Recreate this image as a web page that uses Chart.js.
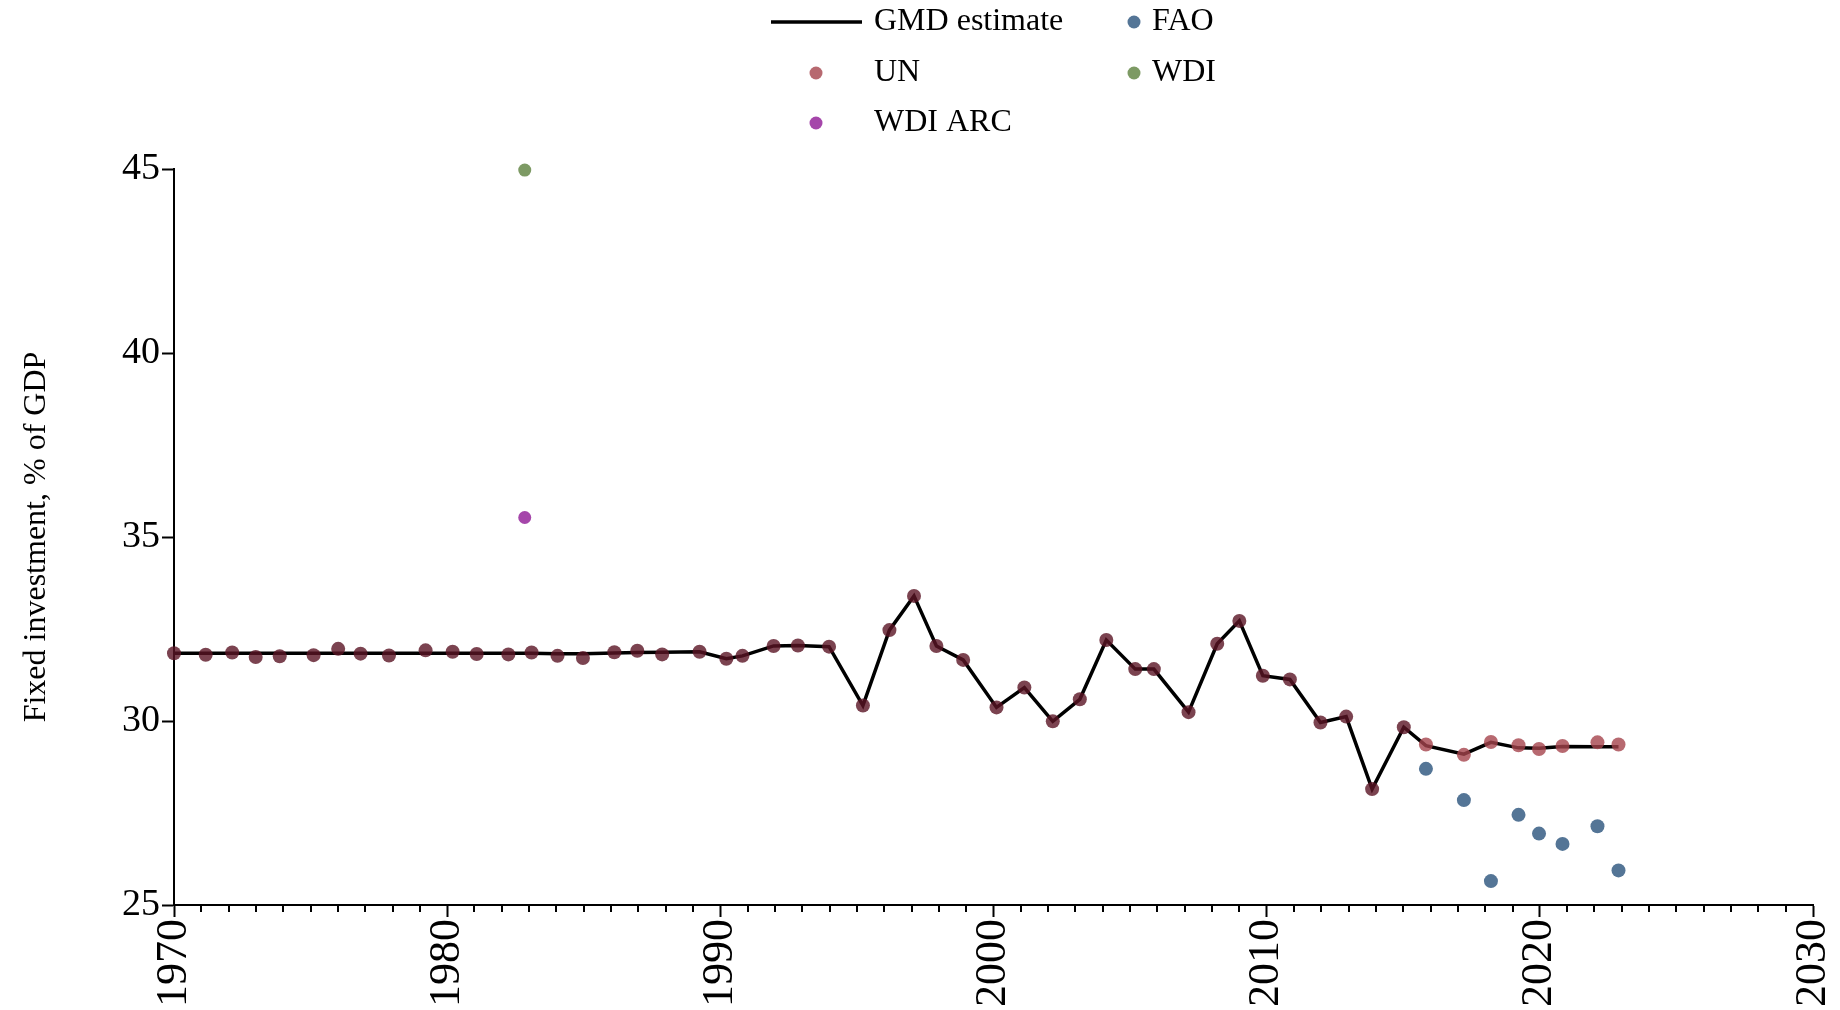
<!DOCTYPE html>
<html>
<head>
<meta charset="utf-8">
<script src="https://cdn.jsdelivr.net/npm/chart.js@4.4.1/dist/chart.umd.min.js"></script>
<style>
  html, body { margin: 0; padding: 0; background: #fff; }
</style>
</head>
<body>
<canvas id="chart" width="1840" height="1010"></canvas>
<script>
// x positions as they sit in the source chart (slightly off whole years)
const years = [
  1970.0, 1971.16, 1972.13, 1972.99, 1973.87, 1975.11, 1976.01, 1976.83, 1977.87, 1979.21,
  1980.20, 1981.08, 1982.24, 1983.09, 1984.04, 1984.97, 1986.12, 1986.96, 1987.87, 1989.24,
  1990.22, 1990.81, 1991.95, 1992.84, 1993.98, 1995.22, 1996.19, 1997.09, 1997.91, 1998.89,
  2000.11, 2001.13, 2002.17, 2003.16, 2004.13, 2005.19, 2005.87, 2007.14, 2008.19, 2009.0,
  2009.86, 2010.85, 2011.97, 2012.91, 2013.86, 2015.02, 2015.83, 2017.22, 2018.21, 2019.22,
  2019.97, 2020.83, 2022.11, 2022.88
];
const gmdEstimate = [
  31.84, 31.84, 31.84, 31.84, 31.84, 31.84, 31.84, 31.84, 31.84, 31.84,
  31.84, 31.84, 31.84, 31.84, 31.83, 31.83, 31.85, 31.86, 31.87, 31.88,
  31.69, 31.77, 32.04, 32.05, 32.02, 30.42, 32.47, 33.40, 32.04, 31.66,
  30.37, 30.91, 29.99, 30.59, 32.20, 31.41, 31.41, 30.24, 32.10, 32.72,
  31.23, 31.13, 29.96, 30.12, 28.15, 29.83, 29.33, 29.10, 29.42, 29.27,
  29.26, 29.31, 29.30, 29.30
];
const unValues = [
  31.84, 31.80, 31.86, 31.74, 31.76, 31.79, 31.96, 31.83, 31.78, 31.92,
  31.88, 31.82, 31.81, 31.86, 31.77, 31.71, 31.87, 31.91, 31.81, 31.88,
  31.69, 31.77, 32.04, 32.05, 32.02, 30.42, 32.47, 33.40, 32.04, 31.66,
  30.37, 30.91, 29.99, 30.59, 32.20, 31.41, 31.41, 30.24, 32.10, 32.72,
  31.23, 31.13, 29.96, 30.12, 28.15, 29.83, 29.36, 29.08, 29.43, 29.34,
  29.24, 29.32, 29.42, 29.36
];
const faoYears = [2015.83, 2017.22, 2018.21, 2019.22, 2019.97, 2020.83, 2022.11, 2022.88];
const faoValues = [28.70, 27.85, 25.65, 27.45, 26.94, 26.66, 27.14, 25.94];
const wdiYears = [1982.84];
const wdiValues = [44.97];
const wdiArcYears = [1982.84];
const wdiArcValues = [35.53];

const serif = '"Liberation Serif", "Times New Roman", Times, serif';
const unDark = 'rgba(90, 20, 36, 0.8)';
const unPink = 'rgba(165, 68, 76, 0.8)';

Chart.defaults.font.family = serif;
Chart.defaults.color = '#000';

function toPoints(xs, ys) {
    return xs.map((x, i) => ({ x: x, y: ys[i] }));
}

// yearly minor ticks on the x axis
const minorTicks = {
    id: 'minorTicks',
    afterDraw(chart) {
        const ctx = chart.ctx;
        const x = chart.scales.x;
        ctx.save();
        ctx.strokeStyle = '#000';
        ctx.lineWidth = 2;
        for (let yr = x.min; yr <= x.max; yr++) {
            if (yr % 10 === 0) continue;
            const px = Math.round(x.getPixelForValue(yr));
            ctx.beginPath();
            ctx.moveTo(px, x.top);
            ctx.lineTo(px, x.top + 7);
            ctx.stroke();
        }
        ctx.restore();
    }
};

// two-column legend above the plot
const gridLegend = {
    id: 'gridLegend',
    afterDraw(chart) {
        const ctx = chart.ctx;
        const rowY = [22, 73, 123];
        ctx.save();
        ctx.font = '32px ' + serif;
        ctx.textBaseline = 'middle';
        chart.data.datasets.forEach((ds, i) => {
            const col = i % 2;
            const y = rowY[Math.floor(i / 2)];
            const textX = col === 0 ? 874 : 1152;
            if (ds.showLine === false) {
                const mx = col === 0 ? 816 : 1134;
                ctx.fillStyle = ds.backgroundColor;
                ctx.beginPath();
                ctx.arc(mx, y, 6.5, 0, Math.PI * 2);
                ctx.fill();
            } else {
                ctx.strokeStyle = ds.borderColor;
                ctx.lineWidth = 3.5;
                ctx.beginPath();
                ctx.moveTo(771, y);
                ctx.lineTo(862, y);
                ctx.stroke();
            }
            ctx.fillStyle = '#000';
            ctx.fillText(ds.label, textX, y);
        });
        ctx.restore();
    }
};

new Chart(document.getElementById('chart'), {
    type: 'line',
    data: {
        datasets: [
            {
                label: 'GMD estimate',
                data: toPoints(years, gmdEstimate),
                borderColor: '#000',
                borderWidth: 3.5,
                pointRadius: 0,
                tension: 0,
                order: 5,
                clip: false
            },
            {
                label: 'FAO',
                data: toPoints(faoYears, faoValues),
                showLine: false,
                backgroundColor: '#547596',
                pointRadius: 7,
                pointBorderWidth: 0,
                clip: false
            },
            {
                label: 'UN',
                data: toPoints(years, unValues),
                showLine: false,
                backgroundColor: unPink,
                pointBackgroundColor: ctx => (ctx.raw && ctx.raw.x < 2015.5 ? unDark : unPink),
                pointRadius: 7,
                pointBorderWidth: 0,
                clip: false
            },
            {
                label: 'WDI',
                data: toPoints(wdiYears, wdiValues),
                showLine: false,
                backgroundColor: '#7d9a64',
                pointRadius: 6.5,
                pointBorderWidth: 0,
                clip: false
            },
            {
                label: 'WDI ARC',
                data: toPoints(wdiArcYears, wdiArcValues),
                showLine: false,
                backgroundColor: '#a546aa',
                pointRadius: 6.5,
                pointBorderWidth: 0,
                clip: false
            }
        ]
    },
    options: {
        responsive: false,
        animation: false,
        layout: { padding: { top: 169, right: 27, left: 0, bottom: 0 } },
        plugins: {
            legend: { display: false },
            tooltip: { enabled: false }
        },
        scales: {
            x: {
                type: 'linear',
                min: 1970,
                max: 2030,
                afterFit: scale => {
                    scale.height = 105;
                    scale.paddingLeft = 0;
                    scale.paddingRight = 0;
                },
                ticks: {
                    stepSize: 1,
                    autoSkip: false,
                    minRotation: 90,
                    maxRotation: 90,
                    padding: 2,
                    color: '#000',
                    font: { family: serif, size: 44 },
                    callback: v => (v % 10 === 0 ? String(v) : '')
                },
                grid: {
                    drawOnChartArea: false,
                    tickLength: 12,
                    tickWidth: 2,
                    tickColor: ctx => (ctx.tick && ctx.tick.value % 10 === 0 ? '#000' : 'rgba(0,0,0,0)')
                },
                border: { color: '#000', width: 2 }
            },
            y: {
                min: 25,
                max: 45,
                afterFit: scale => {
                    scale.width = 174;
                    scale.paddingTop = 0;
                    scale.paddingBottom = 0;
                },
                ticks: {
                    stepSize: 5,
                    padding: 2,
                    color: '#000',
                    font: { family: serif, size: 38 }
                },
                grid: {
                    drawOnChartArea: false,
                    tickLength: 12,
                    tickWidth: 2,
                    tickColor: '#000'
                },
                border: { color: '#000', width: 2 },
                title: {
                    display: true,
                    text: 'Fixed investment, % of GDP',
                    color: '#000',
                    font: { family: serif, size: 32 },
                    padding: { top: 17, bottom: 0 }
                }
            }
        }
    },
    plugins: [minorTicks, gridLegend]
});
</script>
</body>
</html>
